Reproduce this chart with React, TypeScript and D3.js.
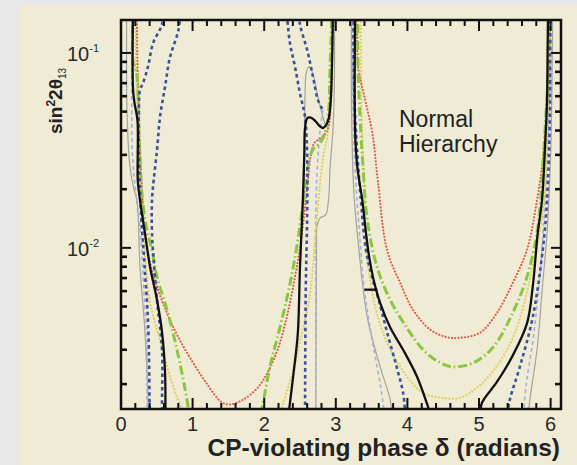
import React, { useEffect, useRef } from 'react';
import * as d3 from 'd3';

type Pt = [number, number];

// x: CP phase delta (radians), y: sin^2 2theta13 (log)
const xTicks = [0, 1, 2, 3, 4, 5, 6];
const yMajor = [0.01, 0.1];
const yMajorExp = ['-2', '-1'];

const blackSolid: Pt[][] = [
  [[0.168, 0.17], [0.168, 0.065], [0.19, 0.055], [0.23, 0.045], [0.235, 0.022], [0.265, 0.0176], [0.335, 0.0119], [0.405, 0.008], [0.503, 0.0054], [0.573, 0.0037], [0.615, 0.0023], [0.62, 0.0014]],
  [[2.34, 0.0014], [2.35, 0.0015], [2.42, 0.00245], [2.47, 0.00366], [2.5, 0.008], [2.54, 0.0176], [2.56, 0.03], [2.57, 0.041], [2.6, 0.0462], [2.65, 0.0466], [2.72, 0.0445], [2.78, 0.042], [2.82, 0.0412], [2.86, 0.0425], [2.9, 0.046], [2.93, 0.058], [2.95, 0.1], [2.96, 0.17]],
  [[3.27, 0.17], [3.27, 0.039], [3.3, 0.026], [3.37, 0.0176], [3.42, 0.012], [3.47, 0.0088], [3.53, 0.0068], [3.62, 0.0052], [3.76, 0.0039], [3.94, 0.003], [4.13, 0.0022], [4.27, 0.0016], [4.32, 0.0014]],
  [[3.4, 0.0061], [3.58, 0.0061]],
  [[5.02, 0.0014], [5.04, 0.0016], [5.25, 0.00205], [5.47, 0.0028], [5.67, 0.0041], [5.75, 0.0063], [5.82, 0.0119], [5.88, 0.0176], [5.92, 0.0318], [5.95, 0.0574], [5.96, 0.12], [5.965, 0.17]],
];

const redDotted: Pt[][] = [
  [[0.22, 0.17], [0.23, 0.09], [0.25, 0.05], [0.27, 0.03], [0.3, 0.018], [0.33, 0.0119], [0.42, 0.008], [0.57, 0.0054], [0.77, 0.00366], [0.98, 0.00267], [1.19, 0.00203], [1.4, 0.00162], [1.52, 0.00157], [1.7, 0.00166], [1.9, 0.0019], [2.05, 0.0023], [2.2, 0.0031], [2.32, 0.0045], [2.42, 0.0068], [2.5, 0.01], [2.56, 0.015], [2.61, 0.022], [2.65, 0.03], [2.7, 0.0345], [2.78, 0.0365], [2.85, 0.0385], [2.9, 0.042], [2.93, 0.055], [2.95, 0.09], [2.97, 0.17]],
  [[3.29, 0.17], [3.3, 0.1], [3.31, 0.0848], [3.41, 0.0574], [3.51, 0.0389], [3.59, 0.0216], [3.715, 0.00977], [3.9, 0.0066], [4.08, 0.0048], [4.32, 0.0038], [4.55, 0.00348], [4.7, 0.00345], [5.01, 0.00366], [5.25, 0.00464], [5.47, 0.0066], [5.67, 0.00977], [5.81, 0.0176], [5.89, 0.028], [5.95, 0.0574], [5.96, 0.1036], [5.99, 0.17]],
];

const greenDashDot: Pt[][] = [
  [[0.17, 0.17], [0.17, 0.09], [0.22, 0.078], [0.24, 0.06], [0.25, 0.04], [0.27, 0.026], [0.3, 0.0176], [0.36, 0.0125], [0.433, 0.00977], [0.503, 0.0071], [0.642, 0.00481], [0.782, 0.003], [0.922, 0.00166], [0.95, 0.0014]],
  [[1.95, 0.0014], [1.97, 0.0015], [2.08, 0.00245], [2.22, 0.0039], [2.33, 0.0058], [2.42, 0.0085], [2.5, 0.013], [2.56, 0.019], [2.62, 0.027], [2.68, 0.032], [2.78, 0.0345], [2.86, 0.04], [2.9, 0.05], [2.92, 0.085], [2.95, 0.17]],
  [[3.31, 0.17], [3.31, 0.085], [3.35, 0.039], [3.38, 0.026], [3.44, 0.0139], [3.575, 0.008], [3.76, 0.0054], [3.99, 0.0039], [4.22, 0.003], [4.46, 0.00257], [4.64, 0.00245], [4.92, 0.00257], [5.2, 0.0031], [5.47, 0.00464], [5.67, 0.0071], [5.81, 0.0119], [5.86, 0.0176], [5.92, 0.039], [5.97, 0.085], [5.99, 0.17]],
];

const yellowDotted: Pt[][] = [
  [[0.2, 0.17], [0.22, 0.06], [0.26, 0.03], [0.3, 0.016], [0.33, 0.0098], [0.4, 0.0054], [0.55, 0.0033], [0.7, 0.0021], [0.84, 0.0015], [0.87, 0.0014]],
  [[2.24, 0.0014], [2.25, 0.0015], [2.33, 0.0019], [2.42, 0.00245], [2.53, 0.0037], [2.63, 0.0054], [2.68, 0.008], [2.72, 0.0119], [2.78, 0.0216], [2.84, 0.0318], [2.88, 0.037], [2.91, 0.05], [2.93, 0.09], [2.95, 0.17]],
  [[3.35, 0.17], [3.36, 0.05], [3.4, 0.02], [3.45, 0.008], [3.66, 0.00366], [3.95, 0.0023], [4.22, 0.0018], [4.47, 0.0017], [4.73, 0.0017], [4.99, 0.00194], [5.24, 0.00245], [5.5, 0.00366], [5.75, 0.008], [5.91, 0.0176], [5.95, 0.04], [5.98, 0.09], [6.0, 0.17]],
];

const blueDashed: Pt[][] = [
  [[0.84, 0.17], [0.8, 0.13], [0.684, 0.095], [0.615, 0.067], [0.545, 0.047], [0.503, 0.0318], [0.447, 0.0206], [0.433, 0.0176], [0.433, 0.0119], [0.503, 0.0054], [0.573, 0.003], [0.573, 0.0016], [0.575, 0.0014]],
  [[0.6, 0.17], [0.573, 0.14], [0.447, 0.112], [0.377, 0.085], [0.307, 0.07], [0.265, 0.0646], [0.25, 0.05], [0.25, 0.03], [0.28, 0.015], [0.33, 0.008], [0.38, 0.004], [0.4, 0.0014]],
  [[2.3, 0.17], [2.32, 0.15], [2.36, 0.112], [2.43, 0.085], [2.5, 0.062], [2.57, 0.047], [2.6, 0.03], [2.6, 0.015], [2.58, 0.006], [2.57, 0.0014]],
  [[2.48, 0.17], [2.5, 0.14], [2.6, 0.1036], [2.68, 0.076], [2.75, 0.0574], [2.82, 0.051]],
  [[3.25, 0.17], [3.25, 0.08], [3.28, 0.04], [3.35, 0.0176], [3.42, 0.0098], [3.51, 0.007], [3.6, 0.0054], [3.715, 0.0037], [3.85, 0.00245], [3.94, 0.0018], [3.97, 0.0014]],
  [[5.4, 0.0014], [5.43, 0.00166], [5.57, 0.00245], [5.75, 0.0044], [5.89, 0.00977], [5.95, 0.0176], [5.99, 0.05], [5.99, 0.17]],
];

const lightBlueDashed: Pt[][] = [
  [[0.36, 0.0014], [0.36, 0.003], [0.32, 0.006], [0.27, 0.012], [0.2, 0.02], [0.16, 0.03], [0.15, 0.06], [0.16, 0.17]],
  [[2.82, 0.051], [2.78, 0.04], [2.74, 0.025], [2.72, 0.015], [2.72, 0.005], [2.72, 0.0014]],
  [[3.24, 0.17], [3.24, 0.05], [3.27, 0.025], [3.33, 0.012], [3.4, 0.006], [3.5, 0.0035], [3.62, 0.002], [3.68, 0.0014]],
  [[5.62, 0.0014], [5.66, 0.002], [5.76, 0.0035], [5.86, 0.008], [5.93, 0.02], [5.98, 0.05], [6.02, 0.17]],
];

const grayThin: Pt[][] = [
  [[0.08, 0.17], [0.08, 0.06], [0.1, 0.035], [0.126, 0.026], [0.18, 0.02], [0.223, 0.0176], [0.265, 0.008], [0.335, 0.0037], [0.377, 0.0017], [0.38, 0.0014]],
  [[2.56, 0.0176], [2.57, 0.06], [2.59, 0.08], [2.63, 0.085], [2.68, 0.078], [2.74, 0.062], [2.8, 0.05], [2.85, 0.043]],
  [[2.98, 0.17], [2.98, 0.07], [2.96, 0.04], [2.92, 0.026], [2.9, 0.018], [2.86, 0.0148], [2.78, 0.0142], [2.74, 0.013], [2.73, 0.009], [2.72, 0.0014]],
  [[3.22, 0.17], [3.22, 0.05], [3.25, 0.02], [3.3, 0.0119], [3.44, 0.0044], [3.62, 0.00245], [3.76, 0.00166], [3.78, 0.0014]],
  [[5.69, 0.0014], [5.71, 0.00166], [5.81, 0.003], [5.89, 0.0066], [5.95, 0.0119], [6.0, 0.03], [6.03, 0.17]],
];

// drawing order, back to front
const layers = [
  { data: grayThin, color: '#a3a3a0', width: 1.2, dash: null },
  { data: lightBlueDashed, color: '#a7b0d6', width: 1.6, dash: '4 3' },
  { data: yellowDotted, color: '#ddd258', width: 2.2, dash: '0.1 3.4' },
  { data: redDotted, color: '#e0584c', width: 2.1, dash: '0.1 3.2' },
  { data: greenDashDot, color: '#8cc63e', width: 3, dash: '9 3 1.5 3' },
  { data: blueDashed, color: '#3e4f9e', width: 2.6, dash: '3.5 3.2' },
  { data: blackSolid, color: '#111111', width: 2.3, dash: null },
];

const W = 577;
const H = 465;
const L = 121, R = 561, T = 20, B = 409;
const FONT = '"Liberation Sans", Arial, Helvetica, sans-serif';

const App = () => {
  const svgRef = useRef<SVGSVGElement>(null);

  useEffect(() => {
    document.body.style.margin = '0';
    const svg = d3.select(svgRef.current);
    svg.selectAll('*').remove();

    const x = d3.scaleLinear().domain([0, 6.145]).range([L, R]);
    const y = d3.scaleLog().domain([0.00149, 0.1476]).range([B, T]);

    svg.append('rect').attr('width', W).attr('height', H).attr('fill', '#e8e8e8');
    svg.append('rect').attr('x', 20).attr('y', 5).attr('width', W - 20).attr('height', H - 5).attr('fill', '#efebd5');

    svg.append('clipPath').attr('id', 'plot-clip')
      .append('rect').attr('x', L).attr('y', T).attr('width', R - L).attr('height', B - T);

    const line = d3.line<Pt>().x(d => x(d[0])).y(d => y(d[1])).curve(d3.curveCatmullRom.alpha(0.5));

    const curves = svg.append('g').attr('clip-path', 'url(#plot-clip)');
    layers.forEach(layer => {
      curves.append('g').selectAll('path')
        .data(layer.data)
        .enter().append('path')
        .attr('d', d => line(d))
        .attr('fill', 'none')
        .attr('stroke', layer.color)
        .attr('stroke-width', layer.width)
        .attr('stroke-linecap', layer.dash && layer.dash.startsWith('0.1') ? 'round' : 'butt')
        .attr('stroke-dasharray', layer.dash);
    });

    // ticks, pointing inward on all four sides
    const ticks = svg.append('g').attr('stroke', '#111').attr('stroke-width', 2);
    const xMinor = d3.range(0, 6.15, 0.2).filter(v => Math.abs(v - Math.round(v)) > 0.01);
    xMinor.forEach(v => {
      ticks.append('line').attr('x1', x(v)).attr('x2', x(v)).attr('y1', B).attr('y2', B - 6);
      ticks.append('line').attr('x1', x(v)).attr('x2', x(v)).attr('y1', T).attr('y2', T + 6);
    });
    xTicks.forEach(v => {
      ticks.append('line').attr('x1', x(v)).attr('x2', x(v)).attr('y1', B).attr('y2', B - 11);
      ticks.append('line').attr('x1', x(v)).attr('x2', x(v)).attr('y1', T).attr('y2', T + 11);
    });
    const yAll: number[] = [];
    [-3, -2, -1].forEach(e => d3.range(1, 10).forEach(k => yAll.push(k * Math.pow(10, e))));
    yAll.filter(v => v > 0.00149 && v < 0.1476).forEach(v => {
      const major = yMajor.some(m => Math.abs(m - v) < 1e-9);
      const len = major ? 10 : 6;
      ticks.append('line').attr('x1', L).attr('x2', L + len).attr('y1', y(v)).attr('y2', y(v))
        .attr('stroke-width', major ? 2 : 2.6);
      ticks.append('line').attr('x1', R).attr('x2', R - len).attr('y1', y(v)).attr('y2', y(v))
        .attr('stroke-width', major ? 2 : 2.6);
    });

    svg.append('rect').attr('x', L).attr('y', T).attr('width', R - L).attr('height', B - T)
      .attr('fill', 'none').attr('stroke', '#111').attr('stroke-width', 2.5);

    // tick labels
    svg.append('g').selectAll('text')
      .data(xTicks)
      .enter().append('text')
      .attr('x', d => x(d)).attr('y', 431)
      .attr('text-anchor', 'middle')
      .attr('font-family', FONT).attr('font-size', 20).attr('fill', '#2a2a2a')
      .text(d => d);

    yMajor.forEach((v, i) => {
      const t = svg.append('text')
        .attr('x', 99).attr('y', y(v) + 8)
        .attr('text-anchor', 'end')
        .attr('font-family', FONT).attr('font-size', 20).attr('fill', '#2a2a2a');
      t.append('tspan').text('10');
      t.append('tspan').attr('dy', -9).attr('font-size', 11).text(yMajorExp[i]);
    });

    // axis titles
    const yt = svg.append('text')
      .attr('transform', 'translate(62,101) rotate(-90)')
      .attr('text-anchor', 'middle')
      .attr('font-family', FONT).attr('font-weight', 'bold').attr('font-size', 19).attr('fill', '#222');
    yt.append('tspan').text('sin');
    yt.append('tspan').attr('dy', -7).attr('font-size', 12).text('2');
    yt.append('tspan').attr('dy', 7).text('2θ');
    yt.append('tspan').attr('dy', 4).attr('font-size', 10).attr('font-weight', 'normal').text('13');

    svg.append('text')
      .attr('x', 560).attr('y', 456)
      .attr('text-anchor', 'end')
      .attr('font-family', FONT).attr('font-weight', 'bold').attr('font-size', 24.5).attr('fill', '#222')
      .text('CP-violating phase δ (radians)');

    const note = svg.append('text')
      .attr('font-family', FONT).attr('font-size', 23).attr('fill', '#222');
    note.append('tspan').attr('x', 399).attr('y', 127).text('Normal');
    note.append('tspan').attr('x', 399).attr('y', 152).text('Hierarchy');
  }, []);

  return <svg ref={svgRef} width={W} height={H} style={{ display: 'block' }}></svg>;
};

export default App;
